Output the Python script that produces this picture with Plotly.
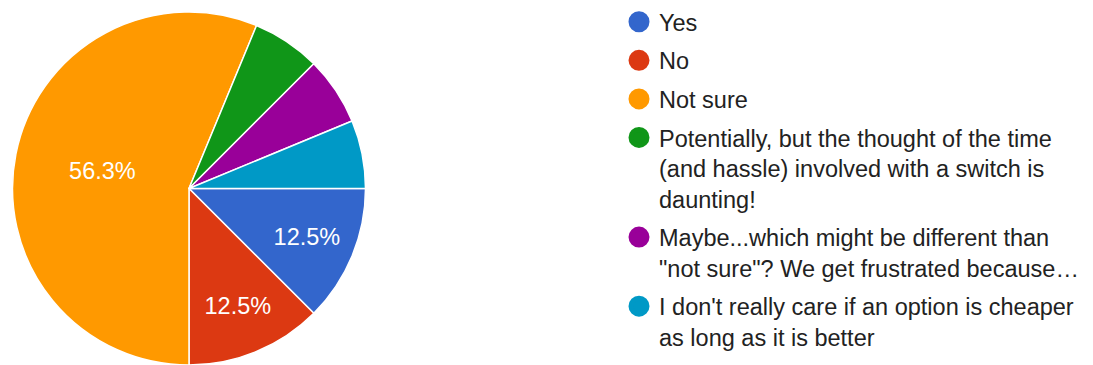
import plotly.graph_objects as go

# Survey answers and response counts
categories = [
    "Yes",
    "No",
    "Not sure",
    "Potentially, but the thought of the time (and hassle) involved with a switch is daunting!",
    "Maybe...which might be different than \"not sure\"? We get frustrated because...",
    "I don't really care if an option is cheaper as long as it is better",
]
legend_labels = [
    "Yes",
    "No",
    "Not sure",
    "Potentially, but the thought of the time<br>(and hassle) involved with a switch is<br>daunting!",
    "Maybe...which might be different than<br>\"not sure\"? We get frustrated because…",
    "I don't really care if an option is cheaper<br>as long as it is better",
]
counts = [2, 2, 9, 1, 1, 1]
colors = ["#3366cc", "#dc3912", "#ff9900", "#109618", "#990099", "#0099c6"]

W, H = 1093, 365
total = sum(counts)
# only label slices that are large enough to hold their percentage
templates = ["%{percent:.1%}" if c / total >= 0.1 else "" for c in counts]

fig = go.Figure()
fig.add_trace(go.Pie(
    labels=categories,
    values=counts,
    sort=False,
    direction="clockwise",
    rotation=90,
    marker=dict(colors=colors, line=dict(color="white", width=1.5)),
    texttemplate=templates,
    textposition="inside",
    insidetextorientation="horizontal",
    textfont=dict(color="white", size=23.5, family="Arial, Liberation Sans"),
    showlegend=False,
    domain=dict(x=[12 / W, 366 / W], y=[0, 353 / H]),
    hoverinfo="label+percent",
))

# circular legend entries
for i, (lab, col) in enumerate(zip(legend_labels, colors)):
    fig.add_trace(go.Scatter(
        x=[None], y=[None], mode="markers", name=lab,
        legendgroup=str(i),
        marker=dict(symbol="circle", size=16, color=col, line=dict(color=col, width=5)),
        hoverinfo="skip",
    ))

fig.update_layout(
    width=W, height=H,
    margin=dict(l=0, r=0, t=0, b=0),
    paper_bgcolor="white",
    plot_bgcolor="white",
    xaxis=dict(visible=False),
    yaxis=dict(visible=False),
    legend=dict(
        x=619 / W, y=1, xanchor="left", yanchor="top",
        font=dict(size=23.5, color="#222222", family="Arial, Liberation Sans"),
        tracegroupgap=5, valign="top", itemsizing="trace",
        bgcolor="rgba(0,0,0,0)",
    ),
)

fig.write_html("out.html")
